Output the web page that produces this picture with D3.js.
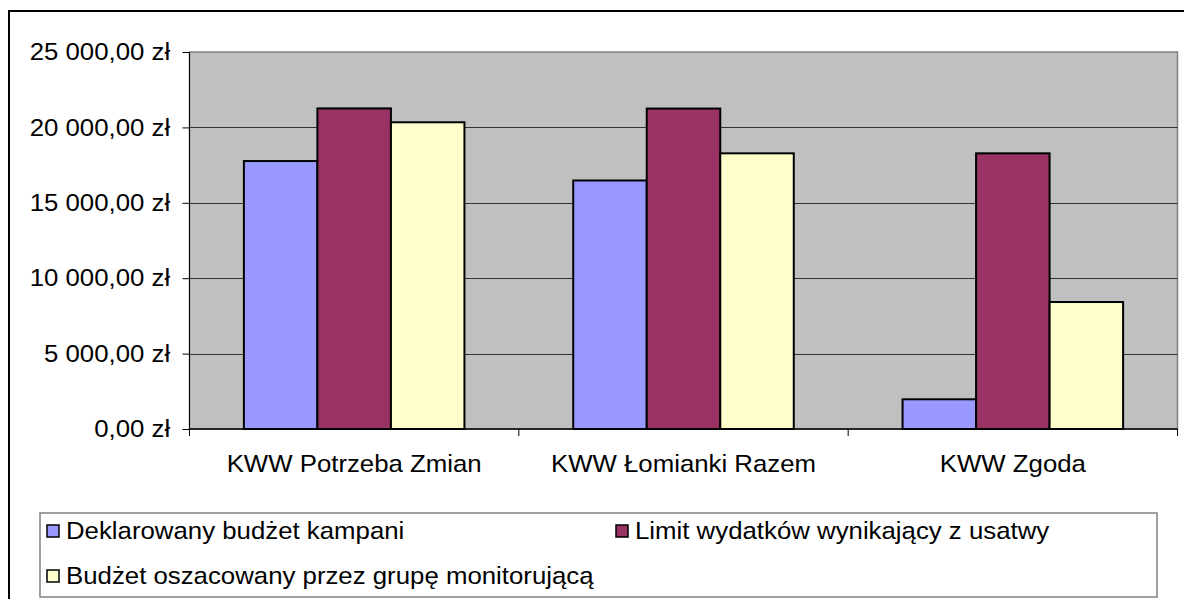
<!DOCTYPE html>
<html>
<head>
<meta charset="utf-8">
<script src="https://cdn.jsdelivr.net/npm/d3@7"></script>
<style>
  body { margin: 0; background: #fff; }
  svg { display: block; font-family: "Liberation Sans", Arial, sans-serif; }
</style>
</head>
<body>
<div id="chart"></div>
<script>
const categories = ["KWW Potrzeba Zmian", "KWW Łomianki Razem", "KWW Zgoda"];
const seriesNames = [
  "Deklarowany budżet kampani",
  "Limit wydatków wynikający z usatwy",
  "Budżet oszacowany przez grupę monitorującą"
];
const declared = [17770, 16480, 1970];
const limit = [21260, 21250, 18280];
const estimated = [20340, 18280, 8420];
const yTicks = [0, 5000, 10000, 15000, 20000, 25000];
const colors = ["#9999ff", "#993366", "#ffffcc"];

const width = 1184, height = 599;
const plot = { left: 189.5, right: 1177.5, top: 52, bottom: 429 };
const fontSize = 24;
const stretch = "scale(1.075,1)"; // text in the source is a little wide

const svg = d3.select("#chart").append("svg")
  .attr("width", width)
  .attr("height", height);

// chart frame (cut off by the picture edge on right and bottom)
svg.append("rect")
  .attr("x", 9).attr("y", 11)
  .attr("width", 1300).attr("height", 700)
  .attr("fill", "none")
  .attr("stroke", "#000")
  .attr("stroke-width", 2);

const x0 = d3.scaleBand()
  .domain(categories)
  .range([plot.left, plot.right]);

const x1 = d3.scaleBand()
  .domain(d3.range(seriesNames.length))
  .range([0, x0.bandwidth()])
  .paddingInner(0)
  .paddingOuter(0.74);

const y = d3.scaleLinear()
  .domain([0, 25000])
  .range([plot.bottom, plot.top]);

const fmt = v => {
  const s = d3.format(",.2f")(v).replace(/,/g, " ").replace(".", ",");
  return s + " zł";
};

// plot background
svg.append("rect")
  .attr("x", plot.left).attr("y", plot.top)
  .attr("width", plot.right - plot.left)
  .attr("height", plot.bottom - plot.top)
  .attr("fill", "#c0c0c0")
  .attr("stroke", "#808080")
  .attr("stroke-width", 1.5);

// gridlines
svg.append("g")
  .selectAll("line")
  .data(yTicks.filter(t => t > 0 && t < 25000))
  .join("line")
  .attr("x1", plot.left).attr("x2", plot.right)
  .attr("y1", d => Math.round(y(d)) + 0.5)
  .attr("y2", d => Math.round(y(d)) + 0.5)
  .attr("stroke", "#333")
  .attr("stroke-width", 1);

// y axis
const yAxis = svg.append("g")
  .attr("transform", `translate(${plot.left},0)`)
  .call(d3.axisLeft(y).tickValues(yTicks).tickFormat(fmt).tickSize(7).tickPadding(11));
yAxis.select(".domain").attr("stroke", "#000").attr("d", `M0,${plot.top}V${plot.bottom + 7}`);
yAxis.selectAll(".tick line").attr("stroke", "#000");
yAxis.selectAll(".tick text")
  .attr("font-size", fontSize)
  .attr("font-family", "Liberation Sans, Arial, sans-serif")
  .attr("fill", "#000")
  .attr("transform", stretch);

// bars
const groups = svg.append("g")
  .selectAll("g")
  .data(categories)
  .join("g")
  .attr("transform", d => `translate(${x0(d)},0)`);

groups.selectAll("rect")
  .data((d, i) => [declared[i], limit[i], estimated[i]].map((v, s) => ({ s, v })))
  .join("rect")
  .attr("x", d => x1(d.s))
  .attr("y", d => y(d.v))
  .attr("width", x1.bandwidth())
  .attr("height", d => y(0) - y(d.v))
  .attr("fill", d => colors[d.s])
  .attr("stroke", "#000")
  .attr("stroke-width", 2);

// x axis
const xAxis = svg.append("g")
  .attr("transform", `translate(0,${plot.bottom})`);
xAxis.append("line")
  .attr("x1", plot.left).attr("x2", plot.right)
  .attr("stroke", "#000").attr("stroke-width", 1.5);
xAxis.selectAll(".sep")
  .data(categories)
  .join("line")
  .attr("class", "sep")
  .attr("x1", d => x0(d) + x0.bandwidth())
  .attr("x2", d => x0(d) + x0.bandwidth())
  .attr("y1", 0).attr("y2", 7)
  .attr("stroke", "#000");
xAxis.selectAll("text")
  .data(categories)
  .join("text")
  .attr("transform", d => `translate(${x0(d) + x0.bandwidth() / 2},43) ${stretch}`)
  .attr("text-anchor", "middle")
  .attr("font-size", fontSize)
  .text(d => d);

// legend
const legend = svg.append("g");
legend.append("rect")
  .attr("x", 40).attr("y", 513)
  .attr("width", 1117).attr("height", 84)
  .attr("fill", "#fff")
  .attr("stroke", "#808080")
  .attr("stroke-width", 1.5);

const legendPos = [
  { x: 47, y: 531 },
  { x: 616, y: 531 },
  { x: 47, y: 576 }
];
const items = legend.selectAll("g.item")
  .data(seriesNames)
  .join("g")
  .attr("class", "item")
  .attr("transform", (d, i) => `translate(${legendPos[i].x},${legendPos[i].y})`);
items.append("rect")
  .attr("x", 0).attr("y", -6)
  .attr("width", 12).attr("height", 12)
  .attr("fill", (d, i) => colors[i])
  .attr("stroke", "#000")
  .attr("stroke-width", 1.5);
items.append("text")
  .attr("transform", `translate(19,8) ${stretch}`)
  .attr("font-size", fontSize)
  .text(d => d);
</script>
</body>
</html>
